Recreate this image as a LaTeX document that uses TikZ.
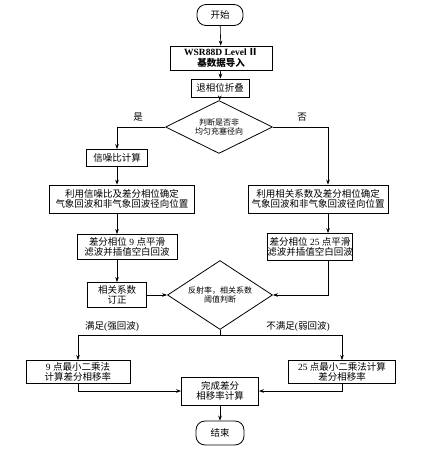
\documentclass[tikz,border=0pt]{standalone}
\usepackage{fontspec}
\setmainfont{Liberation Serif}
\newfontfamily\cjk{Noto Sans CJK SC}
\usetikzlibrary{arrows.meta, shapes.geometric}

\begin{document}
\begin{tikzpicture}[x=1pt, y=-1pt, >={Stealth[length=5pt,width=3.6pt]}, line width=0.6pt,
  txt/.style={font=\cjk\fontsize{9.5}{10.5}\selectfont},
  box/.style={draw, line width=0.8pt, align=center, inner sep=0pt, txt},
  term/.style={box, rounded corners=9pt},
  judge/.style={draw, diamond, line width=0.8pt, inner sep=-3pt, align=center,
    font=\cjk\fontsize{8}{9.5}\selectfont}]
  \useasboundingbox (0,0) rectangle (421,453);
  % ── Upper chain ───────────────────────────────────────────────
  \node[term, minimum width=46pt, minimum height=21pt] (start) at (220,15) {开始};
  \node[box, minimum width=102pt, minimum height=24pt] (wsr) at (221,58)
    {{\rmfamily\bfseries WSR88D Level}\,{\bfseries Ⅱ}\\{\bfseries 基数据导入}};
  \node[box, minimum width=58pt, minimum height=18pt] (unfold) at (220,88) {退相位折叠};
  \node[judge, minimum width=107pt, minimum height=31pt] (judge1) at (219,127)
    {判断是否非\\均匀充塞径向};
  \coordinate (lcol) at (117,0);
  \coordinate (rcol) at (328,0);
  % ── Left branch ───────────────────────────────────────────────
  \node[box, minimum width=61pt, minimum height=17pt] (snr) at (117,158) {信噪比计算};
  \node[box, minimum width=145pt, minimum height=28pt] (lpos) at (122,199)
    {利用信噪比及差分相位确定\\气象回波和非气象回波径向位置};
  \node[box, minimum width=100pt, minimum height=25pt] (lsmooth) at (127,247)
    {差分相位{\rmfamily\ 9\ }点平滑\\滤波并插值空白回波};
  \node[box, minimum width=59pt, minimum height=25pt] (corr) at (117,295)
    {相关系数\\订正};
  % ── Right branch ──────────────────────────────────────────────
  \node[box, minimum width=140pt, minimum height=28pt] (rpos) at (318,199)
    {利用相关系数及差分相位确定\\气象回波和非气象回波径向位置};
  \node[box, minimum width=85pt, minimum height=27pt] (rsmooth) at (310,247)
    {差分相位{\rmfamily\ 25\ }点平滑\\滤波并插值空白回波};
  % ── Threshold test and fits ───────────────────────────────────
  \node[judge, minimum width=105pt, minimum height=37pt] (judge2) at (220,295)
    {反射率，相关系数\\阈值判断};
  \coordinate (split) at (220,335);
  \node[box, minimum width=104pt, minimum height=23pt] (lfit) at (78,372)
    {{\rmfamily 9\ }点最小二乘法\\计算差分相移率};
  \node[box, minimum width=107pt, minimum height=23pt] (rfit) at (342,372)
    {{\rmfamily 25\ }点最小二乘法计算\\差分相移率};
  \node[box, minimum width=77pt, minimum height=28pt] (done) at (220,391)
    {完成差分\\相移率计算};
  \node[term, minimum width=48pt, minimum height=24pt] (end) at (220,433) {结束};
  % ── Branch labels ─────────────────────────────────────────────
  \node[txt] (yes) at (138,117) {是};
  \node[txt] (no) at (302,117) {否};
  \node[txt] (strong) at (112,327) {满足{\rmfamily(}强回波{\rmfamily)}};
  \node[txt] (weak) at (298,327) {不满足{\rmfamily(}弱回波{\rmfamily)}};
  % ── Connectors ────────────────────────────────────────────────
  \draw[->] (start) -- (wsr);
  \draw[->] (wsr) -- (unfold);
  \draw[->] (unfold) -- (judge1);
  \draw[->] (judge1.west) -| (snr.north);
  \draw[->] (judge1.east) -| (rcol |- rpos.north);
  \draw[->] (lcol |- snr.south) -- (lcol |- lpos.north);
  \draw[->] (lcol |- lpos.south) -- (lcol |- lsmooth.north);
  \draw[->] (lcol |- lsmooth.south) -- (corr.north);
  \draw[->] (rcol |- rpos.south) -- (rcol |- rsmooth.north);
  \draw[->] (rcol |- rsmooth.south) |- (judge2.east);
  \draw[->] (corr.east) -- (judge2.west);
  \draw (judge2.south) -- (split);
  \draw[->] (split) -| (lfit.north);
  \draw[->] (split) -| (rfit.north);
  \draw[->] (lfit.south) |- (done.west);
  \draw[->] (rfit.south) |- (done.east);
  \draw[->] (done) -- (end);
\end{tikzpicture}
\end{document}
